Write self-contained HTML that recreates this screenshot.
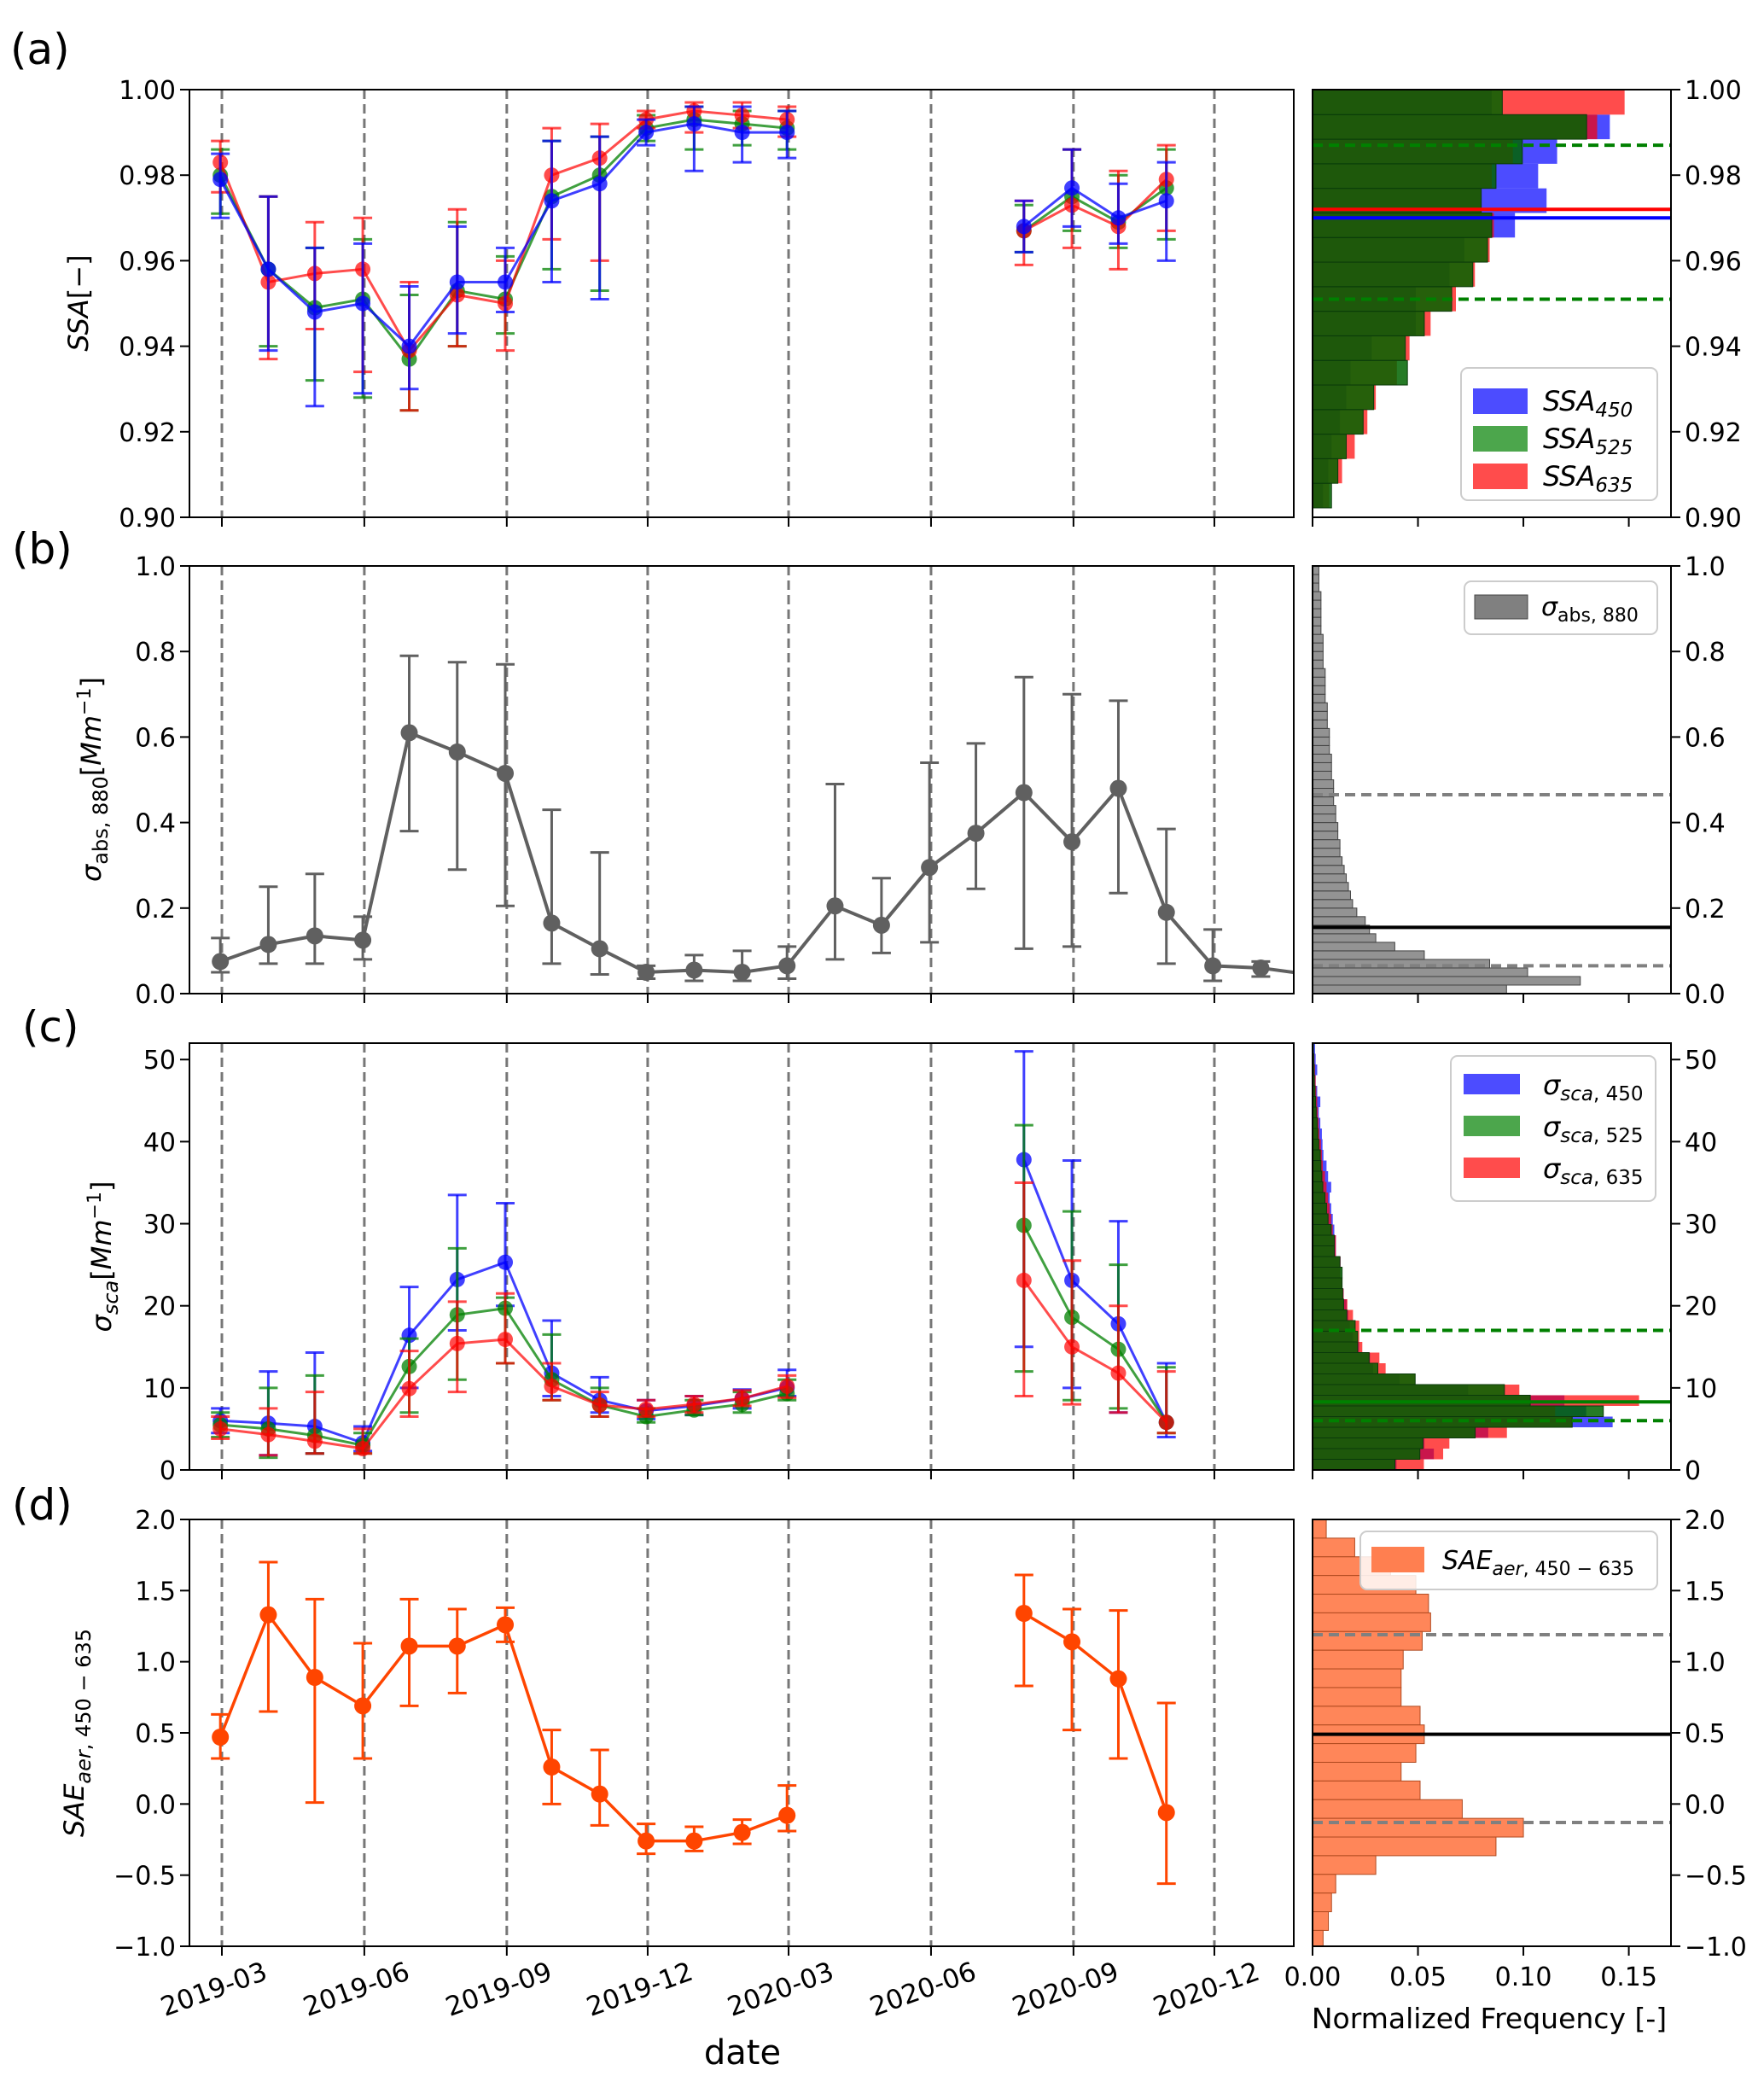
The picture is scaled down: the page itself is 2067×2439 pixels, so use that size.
<!DOCTYPE html>
<html><head><meta charset="utf-8">
<style>
html,body{margin:0;padding:0;background:#fff;}
svg{display:block;font-family:"DejaVu Sans","Liberation Sans",sans-serif;}
</style></head>
<body>
<svg id="fig" width="2067" height="2439" viewBox="0 0 2067 2439" xmlns="http://www.w3.org/2000/svg"></svg>
<script>
// ---------- data ----------
const datesA = ['2019-02-28','2019-03-31','2019-04-30','2019-05-31','2019-06-30','2019-07-31','2019-08-31','2019-09-30','2019-10-31','2019-11-30','2019-12-31','2020-01-31','2020-02-29','2020-07-31','2020-08-31','2020-09-30','2020-10-31'];
const ssa450 = [.979,.958,.948,.950,.940,.955,.955,.974,.978,.990,.992,.990,.990,.968,.977,.970,.974];
const ssa450Lo = [.970,.939,.926,.929,.930,.943,.948,.955,.951,.987,.981,.983,.984,.962,.968,.964,.960];
const ssa450Hi = [.985,.975,.963,.964,.954,.968,.963,.988,.989,.993,.996,.996,.995,.974,.986,.978,.983];
const ssa525 = [.980,.958,.949,.951,.937,.953,.951,.975,.980,.991,.993,.992,.991,.967,.975,.969,.977];
const ssa525Lo = [.971,.940,.932,.928,.925,.940,.943,.958,.953,.988,.986,.987,.986,.962,.967,.963,.965];
const ssa525Hi = [.986,.975,.963,.965,.952,.969,.961,.988,.989,.994,.996,.995,.995,.973,.986,.980,.986];
const ssa635 = [.983,.955,.957,.958,.939,.952,.950,.980,.984,.993,.995,.994,.993,.967,.973,.968,.979];
const ssa635Lo = [.976,.937,.944,.934,.925,.940,.939,.965,.960,.991,.990,.991,.989,.959,.963,.958,.967];
const ssa635Hi = [.988,.975,.969,.970,.955,.972,.960,.991,.992,.995,.997,.997,.996,.974,.986,.981,.987];

const datesB = ['2019-02-28','2019-03-31','2019-04-30','2019-05-31','2019-06-30','2019-07-31','2019-08-31','2019-09-30','2019-10-31','2019-11-30','2019-12-31','2020-01-31','2020-02-29','2020-03-31','2020-04-30','2020-05-31','2020-06-30','2020-07-31','2020-08-31','2020-09-30','2020-10-31','2020-11-30','2020-12-31','2021-01-31'];
const abs880 = [.075,.115,.135,.125,.61,.565,.515,.165,.105,.05,.055,.05,.065,.205,.16,.295,.375,.47,.355,.48,.19,.065,.06,.045];
const abs880Lo = [.05,.07,.07,.08,.38,.29,.205,.07,.045,.035,.03,.03,.035,.08,.095,.12,.245,.105,.11,.235,.07,.03,.04,.03];
const abs880Hi = [.13,.25,.28,.18,.79,.775,.77,.43,.33,.065,.09,.10,.11,.49,.27,.54,.585,.74,.70,.685,.385,.15,.075,.07];

const sca450 = [6.0,5.7,5.3,3.3,16.4,23.2,25.3,11.8,8.5,7.2,7.8,8.7,10.0,37.8,23.1,17.8,5.8];
const sca450Lo = [4.5,1.8,2,2.3,10,17,20,9,7,6.2,6.7,7.5,9,15,10,7,4];
const sca450Hi = [7.5,12,14.3,5.3,22.3,33.5,32.5,18.2,11.3,8.5,9,9.8,12.2,51,37.7,30.3,13];
const sca525 = [5.5,5.0,4.2,3.0,12.6,18.9,19.7,11.0,7.9,6.5,7.3,8.0,9.3,29.8,18.6,14.7,5.8];
const sca525Lo = [4,1.5,2,2,7,11,13,8.5,6.5,5.8,6.7,7,8.5,12,8.5,7.5,4.5];
const sca525Hi = [7,10,11.5,4.5,16,27,21,16.5,10,7.5,8.5,9.5,11,42,31.5,25,12.5];
const sca635 = [5.0,4.3,3.5,2.6,9.9,15.4,15.9,10.2,7.9,7.4,8.0,8.7,10.2,23.1,15.0,11.8,5.8];
const sca635Lo = [3.8,1.8,2,2,6.5,9.5,13,8.5,6.5,6.5,7,7.8,8.8,9,8,7,4.5];
const sca635Hi = [6.5,7.5,9.5,5,14.5,20.5,21.5,13,9.5,8.5,9,9.7,11.5,35,25.5,20,12];

const sae = [.47,1.33,.89,.69,1.11,1.11,1.26,.26,.07,-.26,-.26,-.20,-.08,1.34,1.14,.88,-.06];
const saeLo = [.32,.65,.01,.32,.69,.78,1.14,0,-.15,-.35,-.33,-.28,-.19,.83,.52,.32,-.56];
const saeHi = [.63,1.70,1.44,1.13,1.44,1.37,1.38,.52,.38,-.14,-.16,-.11,.13,1.61,1.37,1.36,.71];

// histograms
const histA450 = [.085,.141,.116,.107,.111,.096,.072,.065,.049,.049,.028,.018,.016,.013,.009,.0075,.005]; // top -> bottom
const histA525 = [.090,.130,.0995,.087,.080,.085,.083,.076,.066,.053,.044,.045,.029,.024,.016,.012,.009];
const histA635 = [.148,.135,.095,.085,.080,.086,.084,.077,.068,.056,.046,.040,.030,.026,.020,.014,.008];
const histB = [.092,.127,.102,.084,.053,.039,.030,.027,.025,.021,.019,.018,.017,.016,.015,.014,.013,.013,.012,.012,.011,.011,.010,.010,.010,.009,.009,.009,.008,.008,.008,.007,.007,.007,.006,.006,.006,.006,.005,.005,.005,.005,.004,.004,.004,.004,.004,.003,.003,.003]; // bottom -> top
const histC450px = [270,390,360,565,965,880,810,500,280,195,185,150,130,120,115,110,100,95,90,90,75,75,70,65,60,55,60,50,45,35,32,30,25,20,25,15,10,15,10,8];
const histC525px = [265,345,355,523,835,935,700,617,330,210,182,145,145,137,110,100,97,95,95,88,70,70,60,50,45,40,33,30,27,25,20,17,15,12,10,8,6,5,4,3];
const histC635px = [358,420,440,625,835,780,1050,665,330,235,215,160,150,150,130,112,100,95,90,90,75,75,65,60,55,50,45,40,33,30,27,22,20,17,15,12,10,8,6,4];
const histD = [.0065,.02,.037,.049,.055,.056,.052,.043,.042,.042,.051,.053,.049,.042,.051,.071,.10,.087,.030,.011,.009,.0075,.005]; // top -> bottom

const xTickLabels = ['2019-03','2019-06','2019-09','2019-12','2020-03','2020-06','2020-09','2020-12'];
const histTickVals = [0,0.05,0.10,0.15];

// ---------- layout ----------
const NS='http://www.w3.org/2000/svg';
const svg=document.getElementById('fig');
const MX0=222, MX1=1516, HX0=1538, HX1=1958;
const panels=[{t:105,b:606},{t:663,b:1164},{t:1222,b:1722},{t:1780,b:2280}];
const T0=Date.UTC(2019,2,1);
function days(s){const p=s.split('-');return (Date.UTC(+p[0],+p[1]-1,+p[2])-T0)/86400000;}
function xD(s){return 260+days(s)*1.8143;}
function hx(v){return HX0+v/0.17*(HX1-HX0);}
function mk(tag,attrs,name,parent){
  const el=document.createElementNS(NS,tag);
  for(const k in attrs) el.setAttribute(k,attrs[k]);
  
  
  (parent||svg).appendChild(el);
  return el;
}
function txt(x,y,s,attrs,name,parent){const e=mk('text',Object.assign({x:x,y:y,'font-size':30,fill:'#000'},attrs||{}),name,parent);e.textContent=s;return e;}

function makePanel(pi,ymin,ymax,ticks,fmt){
  const P=panels[pi];
  const ys=v=>P.b-(v-ymin)/(ymax-ymin)*(P.b-P.t);
  const g=mk('g',{},'panel-'+'abcd'[pi]);
  const defs=mk('defs',{},'clip-defs',g);
  const c1=mk('clipPath',{id:'cm'+pi},'clip-main',defs);
  mk('rect',{x:MX0,y:P.t,width:MX1-MX0,height:P.b-P.t},'clip-rect',c1);
  const c2=mk('clipPath',{id:'ch'+pi},'clip-hist',defs);
  mk('rect',{x:HX0,y:P.t,width:HX1-HX0,height:P.b-P.t},'clip-rect',c2);
  const main=mk('g',{'clip-path':'url(#cm'+pi+')'},'main-plot-area',g);
  const hist=mk('g',{'clip-path':'url(#ch'+pi+')'},'histogram-area',g);
  xTickLabels.forEach(l=>{const x=xD(l+'-01');
    mk('line',{x1:x,x2:x,y1:P.t,y2:P.b,stroke:'#777','stroke-width':3,'stroke-dasharray':'11,6'},'quarter-gridline',main);
    mk('line',{x1:x,x2:x,y1:P.b,y2:P.b+11,stroke:'#000','stroke-width':2},'x-tick',g);
  });
  ticks.forEach(v=>{const y=ys(v);
    mk('line',{x1:MX0-11,x2:MX0,y1:y,y2:y,stroke:'#000','stroke-width':2},'y-tick',g);
    txt(MX0-16,y+11,fmt(v),{'text-anchor':'end'},'y-tick-label',g);
    mk('line',{x1:HX1,x2:HX1+11,y1:y,y2:y,stroke:'#000','stroke-width':2},'right-y-tick',g);
    txt(HX1+16,y+11,fmt(v),{'text-anchor':'start'},'right-y-tick-label',g);
  });
  histTickVals.forEach(v=>{mk('line',{x1:hx(v),x2:hx(v),y1:P.b,y2:P.b+11,stroke:'#000','stroke-width':2},'hist-x-tick',g);});
  return {g,main,hist,ys,P};
}
function series(ctx,dates,vals,lo,hi,color,name,r,lw){
  const {main,ys}=ctx;
  const segs=[];let cur=[];
  for(let i=0;i<dates.length;i++){
    if(i>0 && days(dates[i])-days(dates[i-1])>40){segs.push(cur);cur=[];}
    cur.push([xD(dates[i]),ys(vals[i])]);
  }
  segs.push(cur);
  segs.forEach(s=>mk('polyline',{points:s.map(p=>p.join(',')).join(' '),fill:'none',stroke:color,'stroke-width':lw},name+'-line',main));
  for(let i=0;i<dates.length;i++){
    const x=xD(dates[i]),y1=ys(lo[i]),y2=ys(hi[i]);
    mk('line',{x1:x,x2:x,y1:y1,y2:y2,stroke:color,'stroke-width':3},name+'-errorbar',main);
    mk('line',{x1:x-11,x2:x+11,y1:y1,y2:y1,stroke:color,'stroke-width':3},name+'-errorcap',main);
    mk('line',{x1:x-11,x2:x+11,y1:y2,y2:y2,stroke:color,'stroke-width':3},name+'-errorcap',main);
  }
  for(let i=0;i<dates.length;i++){
    mk('circle',{cx:xD(dates[i]),cy:ys(vals[i]),r:r,fill:color},name+'-marker',main);
  }
}
function hbars(ctx,vals,lo,w,color,op,name,edge){
  vals.forEach((v,i)=>{const y0=ctx.ys(lo+i*w),y1=ctx.ys(lo+(i+1)*w);
    mk('rect',{x:HX0,y:y1,width:hx(v)-HX0,height:y0-y1,fill:color,'fill-opacity':op,stroke:edge||'none','stroke-width':1},name,ctx.hist);
  });
}
function hline(ctx,v,color,dash,name,w){
  const y=ctx.ys(v);
  mk('line',{x1:HX0,x2:HX1,y1:y,y2:y,stroke:color,'stroke-width':w||4,'stroke-dasharray':dash||'none'},name,ctx.hist);
}
function frame(ctx){
  const P=ctx.P;
  mk('rect',{x:MX0,y:P.t,width:MX1-MX0,height:P.b-P.t,fill:'none',stroke:'#000','stroke-width':2},'main-axes-frame',ctx.g);
  mk('rect',{x:HX0,y:P.t,width:HX1-HX0,height:P.b-P.t,fill:'none',stroke:'#000','stroke-width':2},'hist-axes-frame',ctx.g);
}
function legendBox(ctx,x,y,w,h){return mk('rect',{x:x,y:y,width:w,height:h,rx:8,fill:'#fff','fill-opacity':0.85,stroke:'#ccc','stroke-width':2},'legend-box',ctx.g);}

// ---------- (a) ----------
const A=makePanel(0,0.90,1.00,[.90,.92,.94,.96,.98,1.00],v=>v.toFixed(2));
{const w=(0.9999-0.9022)/17;
 hbars(A,histA450.slice().reverse(),0.9022,w,'#0000ff',0.7,'hist-ssa450-bar');
 hbars(A,histA635.slice().reverse(),0.9022,w,'#ff0000',0.7,'hist-ssa635-bar');
 hbars(A,histA525.slice().reverse(),0.9022,w,'#006400',0.85,'hist-ssa525-bar','#0a3a0a');
 hline(A,0.987,'#008000','12,7','ssa-p-high-line');
 hline(A,0.951,'#008000','12,7','ssa-p-low-line');
 hline(A,0.972,'#ff0000',null,'ssa635-median-line');
 hline(A,0.970,'#0000ff',null,'ssa450-median-line');
}
series(A,datesA,ssa525,ssa525Lo,ssa525Hi,'rgba(0,128,0,0.75)','ssa525',9,3);
series(A,datesA,ssa635,ssa635Lo,ssa635Hi,'rgba(255,0,0,0.7)','ssa635',9,3);
series(A,datesA,ssa450,ssa450Lo,ssa450Hi,'rgba(0,0,255,0.75)','ssa450',9,3);
frame(A);
legendBox(A,1712,431,230,155);
[['#0000ff','450'],['#008000','525'],['#ff0000','635']].forEach((e,i)=>{
  const y=455+i*44;
  mk('rect',{x:1726,y:y,width:64,height:30,fill:e[0],'fill-opacity':0.7},'legend-swatch-ssa'+e[1],A.g);
  const t=txt(1808,y+26,'',{'font-style':'italic','font-size':32},'legend-label-ssa'+e[1],A.g);
  const s1=mk('tspan',{},'legend-text',t);s1.textContent='SSA';
  const s2=mk('tspan',{'font-size':23,dy:7},'legend-subscript',t);s2.textContent=e[1];
});
{const t=txt(0,0,'',{transform:'translate(103,355) rotate(-90)','text-anchor':'middle','font-size':32},'y-axis-title-ssa',A.g);
 const s1=mk('tspan',{'font-style':'italic'},'ytitle-part',t);s1.textContent='SSA';
 const s2=mk('tspan',{},'ytitle-part',t);s2.textContent='[−]';}
txt(12,75,'(a)',{'font-size':50},'panel-label-a');

// ---------- (b) ----------
const B=makePanel(1,0,1.0,[0,.2,.4,.6,.8,1.0],v=>v.toFixed(1));
hbars(B,histB,0,0.02,'#808080',0.85,'hist-abs-bar','#444');
hline(B,0.465,'#808080','12,7','abs-p-high-line');
hline(B,0.065,'#808080','12,7','abs-p-low-line');
hline(B,0.155,'#000',null,'abs-median-line');
series(B,datesB,abs880,abs880Lo,abs880Hi,'#606060','abs880',10,4);
frame(B);
legendBox(B,1716,681,226,62);
mk('rect',{x:1728,y:697,width:62,height:28,fill:'#808080',stroke:'#444','stroke-width':1},'legend-swatch-abs',B.g);
{const t=txt(1806,721,'',{},'legend-label-abs',B.g);
 const s1=mk('tspan',{'font-style':'italic'},'legend-text',t);s1.textContent='σ';
 const s2=mk('tspan',{'font-size':22,dy:7},'legend-subscript',t);s2.textContent='abs, 880';}
{const t=txt(0,0,'',{transform:'translate(118,913) rotate(-90)','text-anchor':'middle','font-size':32},'y-axis-title-abs',B.g);
 const a=mk('tspan',{'font-style':'italic'},'ytitle-part',t);a.textContent='σ';
 const b=mk('tspan',{'font-size':24,dy:8},'ytitle-part',t);b.textContent='abs, 880';
 const c=mk('tspan',{dy:-8},'ytitle-part',t);c.textContent='[';
 const d=mk('tspan',{'font-style':'italic'},'ytitle-part',t);d.textContent='Mm';
 const e=mk('tspan',{'font-size':22,dy:-12},'ytitle-part',t);e.textContent='−1';
 const f=mk('tspan',{dy:12},'ytitle-part',t);f.textContent=']';}
txt(14,660,'(b)',{'font-size':50},'panel-label-b');

// ---------- (c) ----------
const C=makePanel(2,0,52,[0,10,20,30,40,50],v=>String(v));
{const cv=px=>px/339*0.05;
 hbars(C,histC450px.map(cv),0,1.3,'#0000ff',0.7,'hist-sca450-bar');
 hbars(C,histC635px.map(cv),0,1.3,'#ff0000',0.7,'hist-sca635-bar');
 hbars(C,histC525px.map(cv),0,1.3,'#006400',0.85,'hist-sca525-bar','#0a3a0a');
 hline(C,17,'#008000','12,7','sca-p-high-line');
 hline(C,6,'#008000','12,7','sca-p-low-line');
 hline(C,8.3,'#008000',null,'sca-median-line');
}
series(C,datesA,sca450,sca450Lo,sca450Hi,'rgba(0,0,255,0.75)','sca450',9,3);
series(C,datesA,sca525,sca525Lo,sca525Hi,'rgba(0,128,0,0.75)','sca525',9,3);
series(C,datesA,sca635,sca635Lo,sca635Hi,'rgba(255,0,0,0.7)','sca635',9,3);
frame(C);
legendBox(C,1700,1237,240,170);
[['#0000ff','450'],['#008000','525'],['#ff0000','635']].forEach((e,i)=>{
  const y=1258+i*49;
  mk('rect',{x:1715,y:y,width:66,height:24,fill:e[0],'fill-opacity':0.7},'legend-swatch-sca'+e[1],C.g);
  const t=txt(1808,y+24,'',{},'legend-label-sca'+e[1],C.g);
  const s1=mk('tspan',{'font-style':'italic','font-size':32},'legend-text',t);s1.textContent='σ';
  const s2=mk('tspan',{'font-size':23,dy:7,'font-style':'italic'},'legend-subscript',t);s2.textContent='sca';
  const s3=mk('tspan',{'font-size':23},'legend-subscript',t);s3.textContent=', '+e[1];
});
{const t=txt(0,0,'',{transform:'translate(130,1472) rotate(-90)','text-anchor':'middle','font-size':32},'y-axis-title-sca',C.g);
 const a=mk('tspan',{'font-style':'italic'},'ytitle-part',t);a.textContent='σ';
 const b=mk('tspan',{'font-size':24,dy:8,'font-style':'italic'},'ytitle-part',t);b.textContent='sca';
 const c=mk('tspan',{dy:-8},'ytitle-part',t);c.textContent='[';
 const d=mk('tspan',{'font-style':'italic'},'ytitle-part',t);d.textContent='Mm';
 const e=mk('tspan',{'font-size':22,dy:-12},'ytitle-part',t);e.textContent='−1';
 const f=mk('tspan',{dy:12},'ytitle-part',t);f.textContent=']';}
txt(26,1220,'(c)',{'font-size':50},'panel-label-c');

// ---------- (d) ----------
const D=makePanel(3,-1,2,[-1,-.5,0,.5,1,1.5,2],v=>(v<0?'−':'')+Math.abs(v).toFixed(1));
{const w=0.1313;
 histD.forEach((v,i)=>{const y0=D.ys(2-i*w),y1=D.ys(2-(i+1)*w);
   mk('rect',{x:HX0,y:y0,width:hx(v)-HX0,height:y1-y0,fill:'#ff7f50','fill-opacity':0.95,stroke:'#b04a20','stroke-width':1},'hist-sae-bar',D.hist);});
 hline(D,1.19,'#808080','12,7','sae-p-high-line');
 hline(D,-0.13,'#808080','12,7','sae-p-low-line');
 hline(D,0.49,'#000',null,'sae-median-line');
}
series(D,datesA,sae,saeLo,saeHi,'#ff4500','sae',10,3.5);
frame(D);
legendBox(D,1594,1794,348,68);
mk('rect',{x:1607,y:1812,width:62,height:30,fill:'#ff7f50'},'legend-swatch-sae',D.g);
{const t=txt(1690,1838,'',{},'legend-label-sae',D.g);
 const a=mk('tspan',{'font-style':'italic'},'legend-text',t);a.textContent='SAE';
 const b=mk('tspan',{'font-size':22,dy:7,'font-style':'italic'},'legend-subscript',t);b.textContent='aer';
 const c=mk('tspan',{'font-size':22},'legend-subscript',t);c.textContent=', 450 − 635';}
{const t=txt(0,0,'',{transform:'translate(98,2030) rotate(-90)','text-anchor':'middle','font-size':32},'y-axis-title-sae',D.g);
 const a=mk('tspan',{'font-style':'italic'},'ytitle-part',t);a.textContent='SAE';
 const b=mk('tspan',{'font-size':24,dy:8,'font-style':'italic'},'ytitle-part',t);b.textContent='aer';
 const c=mk('tspan',{'font-size':24},'ytitle-part',t);c.textContent=', 450 − 635';}
txt(14,1780,'(d)',{'font-size':50},'panel-label-d');

// x tick labels
xTickLabels.forEach(l=>{const x=xD(l+'-01');
  txt(0,0,l,{transform:'translate('+(x+55)+',2318) rotate(-20)','text-anchor':'end','font-size':31},'x-tick-label');});
histTickVals.forEach(v=>{txt(hx(v),2326,v.toFixed(2),{'text-anchor':'middle','font-size':30},'hist-x-tick-label');});
txt(870,2418,'date',{'text-anchor':'middle','font-size':40},'x-axis-title');
txt(1745,2376,'Normalized Frequency [-]',{'text-anchor':'middle','font-size':33},'hist-x-axis-title');
</script>
</body></html>
